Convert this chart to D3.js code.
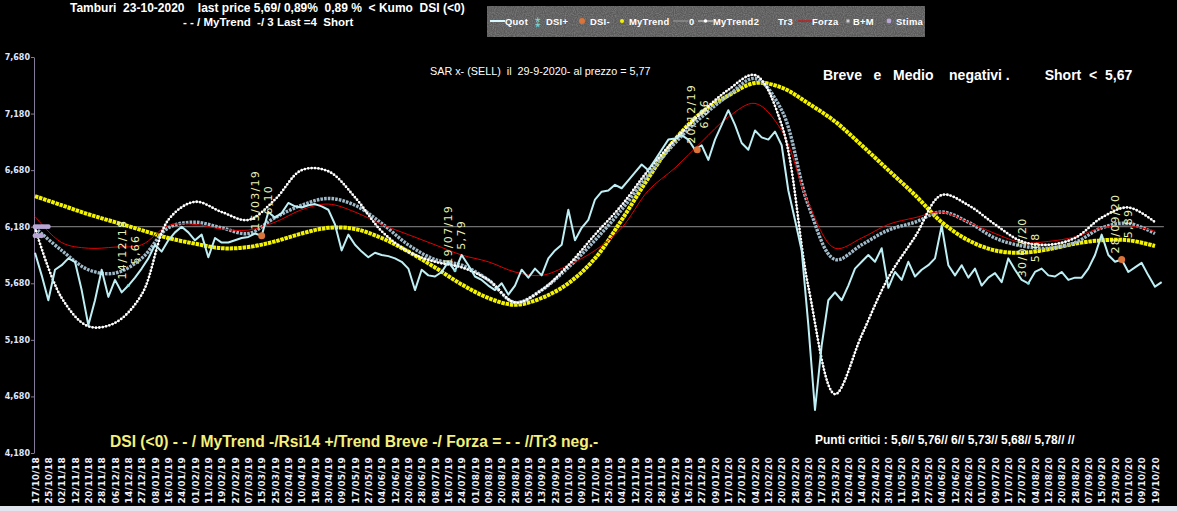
<!DOCTYPE html>
<html>
<head>
<meta charset="utf-8">
<script src="https://cdn.jsdelivr.net/npm/d3@7"></script>
<style>
body { margin: 0; background: #000; }
svg { display: block; }
text { white-space: pre; }
</style>
</head>
<body>
<svg id="chart" width="1177" height="511"></svg>
<script>
// tick labels, one every 6 trading days
var tickDates = ['17/10/18','25/10/18','02/11/18','12/11/18','20/11/18','28/11/18','06/12/18','14/12/18','27/12/18','08/01/19',
    '16/01/19','24/01/19','01/02/19','11/02/19','19/02/19','27/02/19','07/03/19','15/03/19','25/03/19','02/04/19',
    '10/04/19','18/04/19','30/04/19','09/05/19','17/05/19','27/05/19','04/06/19','12/06/19','20/06/19','28/06/19',
    '08/07/19','16/07/19','24/07/19','01/08/19','09/08/19','20/08/19','28/08/19','05/09/19','13/09/19','23/09/19',
    '01/10/19','09/10/19','17/10/19','25/10/19','04/11/19','12/11/19','20/11/19','28/11/19','06/12/19','16/12/19',
    '27/12/19','09/01/20','17/01/20','27/01/20','04/02/20','12/02/20','20/02/20','28/02/20','09/03/20','17/03/20',
    '25/03/20','02/04/20','14/04/20','22/04/20','30/04/20','11/05/20','19/05/20','27/05/20','04/06/20','12/06/20',
    '22/06/20','01/07/20','09/07/20','17/07/20','27/07/20','04/08/20','12/08/20','20/08/20','28/08/20','07/09/20',
    '15/09/20','23/09/20','01/10/20','09/10/20','19/10/20'];

// Quot, one value every 3 trading days
var quot = [5.95,5.75,5.53,5.80,5.84,5.90,5.87,5.62,5.31,5.53,
    5.80,5.56,5.71,5.60,5.66,5.73,5.81,5.90,6.02,5.96,
    6.06,6.13,6.18,6.13,6.06,6.11,5.91,6.08,6.04,6.04,
    6.06,6.08,6.09,6.12,6.10,6.31,6.26,6.30,6.39,6.36,
    6.35,6.37,6.38,6.36,6.33,6.20,5.97,6.11,6.02,5.96,
    5.91,5.95,5.93,5.92,5.90,5.87,5.81,5.62,5.80,5.75,
    5.74,5.78,5.87,5.79,5.93,5.84,5.74,5.71,5.66,5.62,
    5.68,5.58,5.66,5.80,5.73,5.81,5.75,5.90,5.97,6.02,
    6.33,6.06,6.17,6.24,6.42,6.49,6.50,6.55,6.52,6.59,
    6.66,6.73,6.68,6.77,6.86,6.95,6.96,6.99,6.95,6.86,
    6.90,6.77,6.95,7.08,7.21,7.08,6.92,6.86,7.03,6.97,
    6.95,7.02,6.90,6.50,6.24,5.97,5.31,4.56,5.13,5.53,
    5.60,5.53,5.66,5.81,5.87,5.93,5.87,5.99,5.64,5.78,
    5.71,5.87,5.74,5.80,5.84,5.90,6.19,5.84,5.75,5.84,
    5.73,5.81,5.66,5.73,5.77,5.69,5.90,5.80,5.71,5.68,
    5.78,5.81,5.75,5.74,5.78,5.71,5.73,5.73,5.81,5.93,
    6.11,5.93,5.87,5.89,5.78,5.82,5.86,5.75,5.65,5.69];

// smooth series, one value every 12 trading days
var myTrend = [6.45,6.37,6.29,6.22,6.15,6.08,6.03,5.99,6.00,6.05,6.12,6.17,6.16,6.08,5.96,5.82,5.67,5.55,5.49,5.55,
    5.68,5.90,6.24,6.61,6.95,7.19,7.34,7.45,7.41,7.27,7.11,6.90,6.68,6.46,6.22,6.06,5.97,5.95,5.98,6.03,6.06,6.06,6.01];
var myTrend2 = [6.17,5.55,5.30,5.33,5.58,6.24,6.40,6.31,6.24,6.42,6.68,6.67,6.44,6.14,5.96,5.87,5.82,5.71,5.51,5.62,
    5.84,6.11,6.37,6.68,6.95,7.19,7.39,7.52,7.08,5.65,4.70,5.22,5.73,6.09,6.46,6.37,6.20,6.05,6.02,6.08,6.26,6.35,6.22];
var tr3 = [6.17,5.97,5.80,5.77,5.90,6.17,6.22,6.17,6.12,6.26,6.37,6.43,6.37,6.21,6.02,5.89,5.84,5.71,5.51,5.62,
    5.82,6.06,6.33,6.64,6.92,7.15,7.34,7.49,7.21,6.37,5.89,6.02,6.15,6.22,6.31,6.22,6.08,6.01,5.99,6.04,6.17,6.21,6.12];
var forza = [6.27,6.04,5.99,6.00,6.02,6.19,6.20,6.16,6.15,6.22,6.33,6.38,6.31,6.20,6.11,6.02,5.93,5.87,5.78,5.75,
    5.84,5.97,6.17,6.50,6.70,6.93,7.15,7.27,7.03,6.39,5.99,6.08,6.20,6.26,6.31,6.22,6.12,6.04,6.05,6.09,6.17,6.19,6.14];

var zeroLevel = 6.18;
var yTicks = [4.18, 4.68, 5.18, 5.68, 6.18, 6.68, 7.18, 7.68];

// signals (trading day index, date, price, kind)
var sigDays = [42, 102, 189, 298, 447, 489];
var sigDates = ['14/12/18', '15/03/19', '19/07/19', '20/12/19', '30/07/20', '28/09/20'];
var sigValues = [5.66, 6.10, 5.79, 6.86, 5.68, 5.89];
var sigKind = ['+', '-', '+', '-', '+', '-'];

// Stima points at the very start
var stimaDays = [0, 1, 2, 3, 4, 5, 6, 0, 1, 2, 3];
var stimaValues = [6.18, 6.18, 6.18, 6.18, 6.18, 6.18, 6.18, 6.10, 6.10, 6.10, 6.10];

var legendNames = ['Quot', 'DSI+', 'DSI-', 'MyTrend', '0', 'MyTrend2', 'Tr3', 'Forza', 'B+M', 'Stima'];

var titleLine1 = 'Tamburi  23-10-2020    last price 5,69/ 0,89%  0,89 %  < Kumo  DSI (<0)';
var titleLine2 = '- - / MyTrend  -/ 3 Last =4  Short';
var sarText = 'SAR x- (SELL)  il  29-9-2020- al prezzo = 5,77';
var trendText = 'Breve   e   Medio    negativi .         Short  <  5,67';
var bottomText = 'DSI (<0) - - / MyTrend -/Rsi14 +/Trend Breve -/ Forza = - - //Tr3 neg.-';
var puntiText = 'Punti critici : 5,6// 5,76// 6// 5,73// 5,68// 5,78// //';

var svg = d3.select('#chart');

var x = d3.scaleLinear().domain([0, 504]).range([35, 1155]);
var y = d3.scaleLinear().domain([4.18, 7.68]).range([453, 57]);

svg.append('rect').attr('width', 1177).attr('height', 511).attr('fill', '#000');

// legend grain
var defs = svg.append('defs');
var grain = defs.append('filter').attr('id', 'grain').attr('x', 0).attr('y', 0).attr('width', '100%').attr('height', '100%');
grain.append('feTurbulence').attr('type', 'fractalNoise').attr('baseFrequency', 0.9).attr('numOctaves', 1).attr('seed', 3);
grain.append('feColorMatrix').attr('type', 'matrix')
    .attr('values', '0 0 0 0 0.45  0 0 0 0 0.45  0 0 0 0 0.45  1.6 0 0 0 -0.55');

// Y axis
var yAxis = d3.axisLeft(y).tickValues(yTicks).tickSize(3).tickSizeOuter(0)
    .tickFormat(function(d) { return d3.format('.3f')(d).replace('.', ','); });
var gy = svg.append('g').attr('transform', 'translate(34,0)').call(yAxis);
gy.select('.domain').attr('stroke', '#85799a');
gy.selectAll('.tick line').attr('stroke', '#85799a');
gy.selectAll('.tick text').attr('fill', '#dfe6ff').attr('font-family', 'DejaVu Sans')
    .attr('font-weight', 'bold').attr('font-size', 8).attr('x', -4);

// X labels, rotated
svg.append('g').selectAll('text').data(tickDates).enter().append('text')
    .attr('transform', function(d, i) { return 'translate(' + (x(i * 6) + 3.5) + ',457) rotate(-90)'; })
    .attr('text-anchor', 'end')
    .attr('fill', '#eef0ff')
    .attr('font-family', 'DejaVu Sans')
    .attr('font-weight', 'bold')
    .attr('font-size', 9)
    .attr('letter-spacing', 0.3)
    .text(function(d) { return d; });

// zero line
svg.append('line').attr('x1', x(0)).attr('x2', x(508)).attr('y1', y(zeroLevel)).attr('y2', y(zeroLevel))
    .attr('stroke', '#8c8c8c').attr('stroke-width', 1);

var smoothLine = d3.line()
    .x(function(d, i) { return x(i * 12); })
    .y(function(d) { return y(d); })
    .curve(d3.curveCatmullRom.alpha(0.5));

// MyTrend (yellow beads)
svg.append('path').attr('d', smoothLine(myTrend)).attr('fill', 'none')
    .attr('stroke', '#f4f400').attr('stroke-width', 4).attr('stroke-dasharray', '3.5 0.8');

// Tr3 (grey-blue squares)
svg.append('path').attr('d', smoothLine(tr3)).attr('fill', 'none')
    .attr('stroke', '#9fb9c9').attr('stroke-width', 3.4).attr('stroke-dasharray', '2.6 1.1');

// Forza
svg.append('path').attr('d', smoothLine(forza)).attr('fill', 'none')
    .attr('stroke', '#e00000').attr('stroke-width', 1);

// MyTrend2 (white dotted)
svg.append('path').attr('d', smoothLine(myTrend2)).attr('fill', 'none')
    .attr('stroke', '#c8c8c8').attr('stroke-width', 1);
svg.append('path').attr('d', smoothLine(myTrend2)).attr('fill', 'none')
    .attr('stroke', '#ffffff').attr('stroke-width', 2.8).attr('stroke-linecap', 'round').attr('stroke-dasharray', '0 3.4');

// Quot
var quotLine = d3.line()
    .x(function(d, i) { return x(i * 3); })
    .y(function(d) { return y(d); });
svg.append('path').attr('d', quotLine(quot)).attr('fill', 'none')
    .attr('stroke', '#bdeff5').attr('stroke-width', 2).attr('stroke-linejoin', 'round');

// Stima
svg.append('g').selectAll('circle').data(stimaDays).enter().append('circle')
    .attr('cx', function(d) { return x(d); })
    .attr('cy', function(d, i) { return y(stimaValues[i]); })
    .attr('r', 2.4)
    .attr('fill', '#b7a6d6');

// signal markers
svg.append('g').selectAll('circle').data(sigDays).enter().append('circle')
    .attr('cx', function(d) { return x(d); })
    .attr('cy', function(d, i) { return y(sigValues[i]); })
    .attr('r', function(d, i) { return sigKind[i] == '-' ? 3.5 : 1.5; })
    .attr('fill', function(d, i) { return sigKind[i] == '-' ? '#d9743a' : '#7fe0e0'; });

// signal labels, two rotated lines above the point
var sigLabel = svg.append('g').selectAll('g').data(sigDays).enter().append('g')
    .attr('transform', function(d, i) { return 'translate(' + x(d) + ',' + (y(sigValues[i]) - 36) + ') rotate(-90)'; });
sigLabel.append('text')
    .attr('y', -6.5).attr('dy', '0.35em')
    .attr('text-anchor', 'middle')
    .attr('fill', '#e8f0b4').attr('font-family', 'DejaVu Sans').attr('font-size', 11).attr('letter-spacing', 1.3)
    .text(function(d, i) { return sigDates[i]; });
sigLabel.append('text')
    .attr('y', 6.5).attr('dy', '0.35em')
    .attr('text-anchor', 'middle')
    .attr('fill', '#e8f0b4').attr('font-family', 'DejaVu Sans').attr('font-size', 11).attr('letter-spacing', 1.3)
    .text(function(d, i) { return sigValues[i].toFixed(2).replace('.', ','); });

// titles
svg.append('text').attr('x', 70).attr('y', 12).attr('fill', '#fff')
    .attr('font-family', 'Liberation Sans').attr('font-weight', 'bold').attr('font-size', 12).text(titleLine1);
svg.append('text').attr('x', 183).attr('y', 26).attr('fill', '#fff')
    .attr('font-family', 'Liberation Sans').attr('font-weight', 'bold').attr('font-size', 11.5).text(titleLine2);
svg.append('text').attr('x', 430).attr('y', 75).attr('fill', '#fff')
    .attr('font-family', 'Liberation Sans').attr('font-size', 10.8).text(sarText);
svg.append('text').attr('x', 823).attr('y', 80).attr('fill', '#fff')
    .attr('font-family', 'Liberation Sans').attr('font-weight', 'bold').attr('font-size', 14).text(trendText);
svg.append('text').attr('x', 110).attr('y', 447).attr('fill', '#f4f07a')
    .attr('font-family', 'Liberation Sans').attr('font-weight', 'bold').attr('font-size', 15.6).text(bottomText);
svg.append('text').attr('x', 815).attr('y', 444).attr('fill', '#fff')
    .attr('font-family', 'Liberation Sans').attr('font-weight', 'bold').attr('font-size', 12).text(puntiText);

// legend box
svg.append('rect').attr('x', 487).attr('y', 6).attr('width', 438).attr('height', 31).attr('fill', '#5a5a5a');
svg.append('rect').attr('x', 487).attr('y', 6).attr('width', 438).attr('height', 31).attr('filter', 'url(#grain)').attr('opacity', 0.5);

// legend entries: symbol start and text start for each name
var legendSymX = [490, 534, 578, 618, 673, 698, 762, 798, 844, 885];
var legendTextX = [505, 546, 590, 629, 689, 713, 778, 812, 853, 896];
var legend = svg.append('g').attr('transform', 'translate(0,21)');
for (var n = 0; n < legendNames.length; n++) {
    var name = legendNames[n];
    var sx = legendSymX[n];
    if (name == 'Quot') {
        legend.append('line').attr('x1', sx).attr('x2', sx + 15).attr('stroke', '#d8f8ff').attr('stroke-width', 2);
    } else if (name == 'DSI+') {
        legend.append('text').attr('x', sx + 4).attr('y', 4).attr('text-anchor', 'middle').attr('fill', '#7fe0e0')
            .attr('font-family', 'Liberation Sans').attr('font-size', 10).text('⁑');
    } else if (name == 'DSI-') {
        legend.append('circle').attr('cx', sx + 4).attr('r', 3).attr('fill', '#d9743a');
    } else if (name == 'MyTrend') {
        legend.append('circle').attr('cx', sx + 4).attr('r', 2).attr('fill', '#f4f400');
    } else if (name == '0') {
        legend.append('line').attr('x1', sx).attr('x2', sx + 15).attr('stroke', '#a0a0a0').attr('stroke-width', 1);
    } else if (name == 'MyTrend2') {
        legend.append('line').attr('x1', sx).attr('x2', sx + 15).attr('stroke', '#e0e0e0').attr('stroke-width', 1);
        legend.append('circle').attr('cx', sx + 7.5).attr('r', 1.8).attr('fill', '#fff');
    } else if (name == 'Forza') {
        legend.append('line').attr('x1', sx).attr('x2', sx + 15).attr('stroke', '#e00000').attr('stroke-width', 1);
    } else if (name == 'B+M') {
        legend.append('rect').attr('x', sx + 2.5).attr('y', -1.5).attr('width', 3).attr('height', 3).attr('fill', '#d0d0d0');
    } else if (name == 'Stima') {
        legend.append('circle').attr('cx', sx + 4).attr('r', 2.4).attr('fill', '#b7a6d6');
    }
    legend.append('text').attr('x', legendTextX[n]).attr('y', 4).attr('fill', '#fff')
        .attr('font-family', 'Liberation Sans').attr('font-weight', 'bold').attr('font-size', 9.4).attr('letter-spacing', 0.3)
        .text(name);
}

// bottom strip
svg.append('rect').attr('x', 0).attr('y', 506).attr('width', 1177).attr('height', 5).attr('fill', '#dfe4ee');
</script>
</body>
</html>
